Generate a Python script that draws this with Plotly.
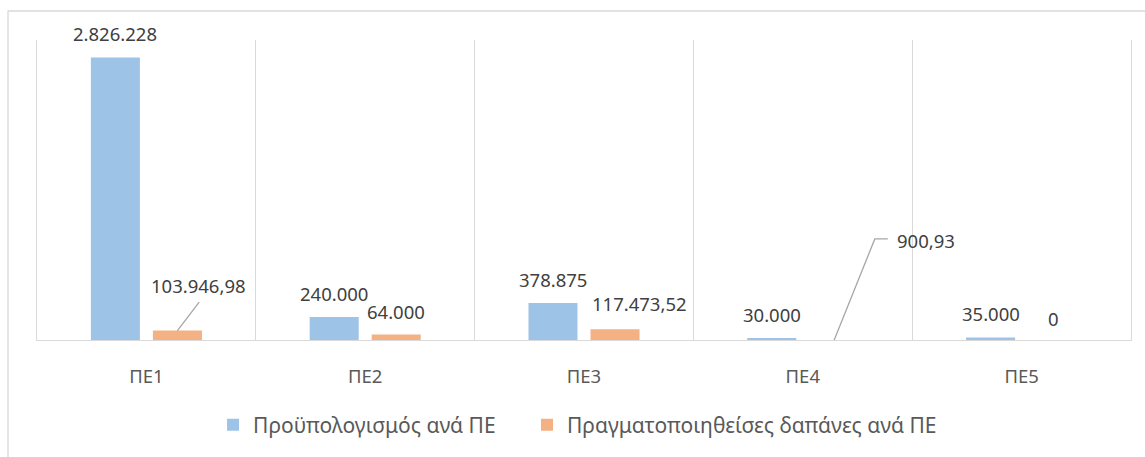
import plotly.graph_objects as go

# Budget vs. realised spending per work package (ΠΕ)
categories = ["ΠΕ1", "ΠΕ2", "ΠΕ3", "ΠΕ4", "ΠΕ5"]
budget = [2826228, 240000, 378875, 30000, 35000]
spent = [103946.98, 64000, 117473.52, 900.93, 0]

budget_name = "Προϋπολογισμός ανά ΠΕ"
spent_name = "Πραγματοποιηθείσες δαπάνες ανά ΠΕ"

BLUE = "#9DC3E6"
ORANGE = "#F4B183"
GRID = "#D9D9D9"
LABEL = "#404040"
FONT = "Noto Sans"

BARGAP = 0.433
BARGROUPGAP = 0.21
# centre offset of each bar inside its category (in category units)
half_slot = (1 - BARGAP) / 4


def fmt(v):
    """Greek number format: '.' for thousands, ',' for decimals."""
    if float(v).is_integer():
        s = f"{int(v):,}"
    else:
        s = f"{v:,.2f}"
    return s.replace(",", "X").replace(".", ",").replace("X", ".")


fig = go.Figure()
fig.add_trace(go.Bar(x=categories, y=budget, name=budget_name, legend="legend",
                     marker=dict(color=BLUE, line=dict(width=0))))
fig.add_trace(go.Bar(x=categories, y=spent, name=spent_name, legend="legend2",
                     marker=dict(color=ORANGE, line=dict(width=0))))

annotations = []
shapes = []

# value labels above the budget bars
for i, v in enumerate(budget):
    annotations.append(dict(x=i - half_slot, y=v, text=fmt(v), showarrow=False,
                            xanchor="center", yanchor="middle", yshift=23.5,
                            font=dict(family=FONT, size=18.5, color=LABEL)))

# label offsets (px) for the spending bars; some use a leader line
spent_label_style = [
    dict(dx=21.5, dy=45, anchor="center", leader="M0,0L21.8,28.5"),
    dict(dx=0, dy=22.6, anchor="center", leader=None),
    dict(dx=24.5, dy=26, anchor="center", leader=None),
    dict(dx=61, dy=100.5, anchor="left", leader="M0,0L41,102L54,102"),
    dict(dx=1, dy=22.5, anchor="center", leader=None),
]
for i, (v, st) in enumerate(zip(spent, spent_label_style)):
    annotations.append(dict(x=i + half_slot, y=v, text=fmt(v), showarrow=False,
                            xanchor=st["anchor"], yanchor="middle",
                            xshift=st["dx"], yshift=st["dy"],
                            font=dict(family=FONT, size=18.5, color=LABEL)))
    if st["leader"]:
        shapes.append(dict(type="path", xref="x", yref="y",
                           xsizemode="pixel", ysizemode="pixel",
                           xanchor=i + half_slot, yanchor=v,
                           path=st["leader"],
                           line=dict(color="#A6A6A6", width=1.3)))

# category baseline drawn over the bars
shapes.append(dict(type="line", xref="paper", yref="y", x0=0, x1=1, y0=0, y1=0,
                   line=dict(color=GRID, width=2), layer="above"))

# outer chart border
shapes.append(dict(type="rect", xref="paper", yref="paper",
                   x0=-0.0265, x1=1.2, y0=-1, y1=1.0963,
                   line=dict(color=GRID, width=1.3), layer="below"))

legend_style = dict(orientation="h", xanchor="left", y=-0.279, yanchor="middle",
                    font=dict(family=FONT, size=21, color="#595959"), itemwidth=30)

fig.update_layout(
    width=1145, height=457,
    margin=dict(l=37, r=14, t=40, b=116, autoexpand=False),
    paper_bgcolor="white", plot_bgcolor="white",
    barmode="group", bargap=BARGAP, bargroupgap=BARGROUPGAP,
    font=dict(family=FONT, color="#595959"),
    showlegend=True,
    legend=dict(x=0.1609, **legend_style),
    legend2=dict(x=0.4479, **legend_style),
    annotations=annotations,
    shapes=shapes,
)
fig.update_xaxes(type="category", tickson="boundaries", showgrid=True, gridcolor=GRID,
                 gridwidth=1.3, showline=False, automargin=False,
                 ticks="", ticklabelstandoff=22,
                 tickfont=dict(family=FONT, size=18.5, color="#595959"),
                 range=[-0.5, 4.5])
fig.update_yaxes(range=[0, 3000000], showline=True, mirror=True, linecolor=GRID,
                 linewidth=1.3, showticklabels=False, ticks="", automargin=False,
                 showgrid=False, zeroline=False)

fig.write_html("out.html")
